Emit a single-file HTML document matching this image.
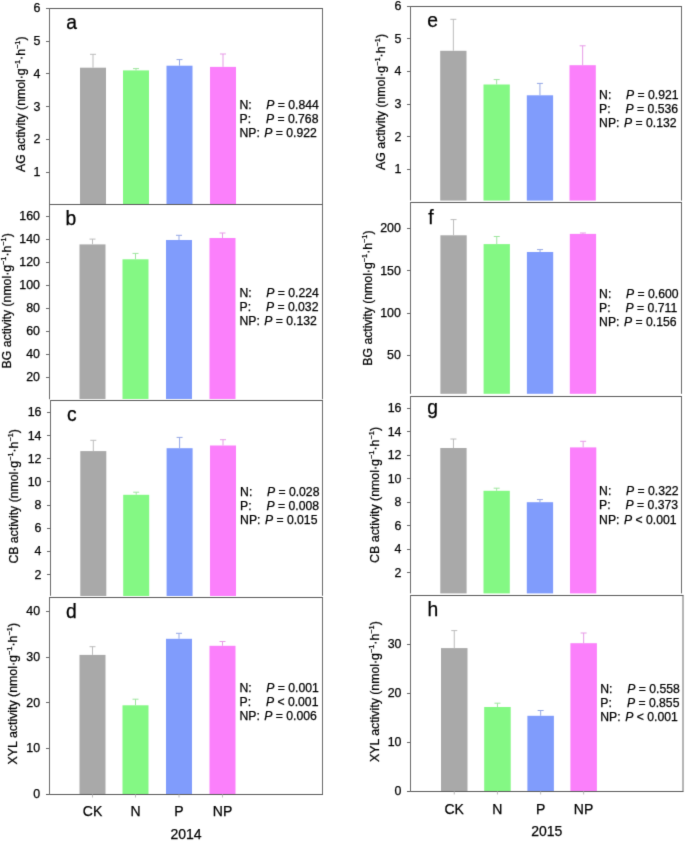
<!DOCTYPE html>
<html><head><meta charset="utf-8"><style>
html,body{margin:0;padding:0;background:#fff;}
svg{display:block;}
text{font-family:"Liberation Sans", sans-serif;fill:#000;stroke:#000;stroke-width:0.25px;}
</style></head><body>
<svg width="685" height="841" viewBox="0 0 685 841">
<defs><filter id="soft" filterUnits="userSpaceOnUse" x="0" y="0" width="685" height="841" color-interpolation-filters="sRGB">
<feConvolveMatrix order="3" kernelMatrix="0.0114 0.084 0.0114 0.084 0.618 0.084 0.0114 0.084 0.0114" divisor="1" edgeMode="duplicate"/></filter></defs>
<g filter="url(#soft)">
<rect width="685" height="841" fill="#fff"/>
<rect x="80" y="67.7" width="26" height="136.3" fill="#a9a9a9"/>
<line x1="93.0" y1="54.3" x2="93.0" y2="67.7" stroke="#bcbcbc" stroke-width="1"/>
<line x1="90.0" y1="54.3" x2="96.0" y2="54.3" stroke="#bcbcbc" stroke-width="1"/>
<rect x="123" y="70.4" width="26" height="133.6" fill="#84f884"/>
<line x1="136.0" y1="68.6" x2="136.0" y2="70.4" stroke="#9fe69f" stroke-width="1"/>
<line x1="133.0" y1="68.6" x2="139.0" y2="68.6" stroke="#9fe69f" stroke-width="1"/>
<rect x="166.5" y="65.7" width="26" height="138.3" fill="#809cfc"/>
<line x1="179.5" y1="59.6" x2="179.5" y2="65.7" stroke="#95a8e6" stroke-width="1"/>
<line x1="176.5" y1="59.6" x2="182.5" y2="59.6" stroke="#95a8e6" stroke-width="1"/>
<rect x="210" y="66.9" width="26" height="137.1" fill="#fb80fb"/>
<line x1="223.0" y1="54.0" x2="223.0" y2="66.9" stroke="#e79be7" stroke-width="1"/>
<line x1="220.0" y1="54.0" x2="226.0" y2="54.0" stroke="#e79be7" stroke-width="1"/>
<line x1="49.5" y1="8.5" x2="323.0" y2="8.5" stroke="#5a5a5a" stroke-width="1"/>
<line x1="49.5" y1="8.0" x2="49.5" y2="204.5" stroke="#6a6a6a" stroke-width="1"/>
<line x1="322.5" y1="8.5" x2="322.5" y2="204.5" stroke="#6a6a6a" stroke-width="1"/>
<line x1="46.0" y1="8.5" x2="49.5" y2="8.5" stroke="#6a6a6a" stroke-width="1"/>
<text x="40.5" y="12.1" text-anchor="end" font-size="12.4">6</text>
<line x1="46.0" y1="41.5" x2="49.5" y2="41.5" stroke="#6a6a6a" stroke-width="1"/>
<text x="40.5" y="44.9" text-anchor="end" font-size="12.4">5</text>
<line x1="46.0" y1="73.5" x2="49.5" y2="73.5" stroke="#6a6a6a" stroke-width="1"/>
<text x="40.5" y="77.7" text-anchor="end" font-size="12.4">4</text>
<line x1="46.0" y1="106.5" x2="49.5" y2="106.5" stroke="#6a6a6a" stroke-width="1"/>
<text x="40.5" y="110.5" text-anchor="end" font-size="12.4">3</text>
<line x1="46.0" y1="139.5" x2="49.5" y2="139.5" stroke="#6a6a6a" stroke-width="1"/>
<text x="40.5" y="143.3" text-anchor="end" font-size="12.4">2</text>
<line x1="46.0" y1="172.5" x2="49.5" y2="172.5" stroke="#6a6a6a" stroke-width="1"/>
<text x="40.5" y="176.1" text-anchor="end" font-size="12.4">1</text>
<text x="66.3" y="28.7" font-size="19.3">a</text>
<text transform="translate(24.8,171.9) rotate(-90)" font-size="12.2" textLength="135.4" lengthAdjust="spacingAndGlyphs">AG activity (nmol·g<tspan font-size="7.32" dy="-5.0">−1</tspan><tspan dy="5.0">·h</tspan><tspan font-size="7.32" dy="-5.0">−1</tspan><tspan dy="5.0">)</tspan></text>
<text x="239.5" y="108.7" font-size="12.2">N:</text>
<text x="266.3" y="108.7" font-size="12.2"><tspan font-style="italic">P</tspan> = 0.844</text>
<text x="239.5" y="122.8" font-size="12.2">P:</text>
<text x="265.9" y="122.8" font-size="12.2"><tspan font-style="italic">P</tspan> = 0.768</text>
<text x="239.5" y="137.2" font-size="12.2">NP:</text>
<text x="264.3" y="137.2" font-size="12.2"><tspan font-style="italic">P</tspan> = 0.922</text>
<rect x="79.5" y="244.4" width="26" height="154.6" fill="#a9a9a9"/>
<line x1="92.5" y1="239.1" x2="92.5" y2="244.4" stroke="#bcbcbc" stroke-width="1"/>
<line x1="89.5" y1="239.1" x2="95.5" y2="239.1" stroke="#bcbcbc" stroke-width="1"/>
<rect x="122.5" y="259.3" width="26" height="139.7" fill="#84f884"/>
<line x1="135.5" y1="253.4" x2="135.5" y2="259.3" stroke="#9fe69f" stroke-width="1"/>
<line x1="132.5" y1="253.4" x2="138.5" y2="253.4" stroke="#9fe69f" stroke-width="1"/>
<rect x="166" y="240.0" width="26" height="159.0" fill="#809cfc"/>
<line x1="179.0" y1="235.3" x2="179.0" y2="240.0" stroke="#95a8e6" stroke-width="1"/>
<line x1="176.0" y1="235.3" x2="182.0" y2="235.3" stroke="#95a8e6" stroke-width="1"/>
<rect x="209.5" y="238.0" width="26" height="161.0" fill="#fb80fb"/>
<line x1="222.5" y1="233.0" x2="222.5" y2="238.0" stroke="#e79be7" stroke-width="1"/>
<line x1="219.5" y1="233.0" x2="225.5" y2="233.0" stroke="#e79be7" stroke-width="1"/>
<line x1="49.5" y1="204.5" x2="323.0" y2="204.5" stroke="#5a5a5a" stroke-width="1"/>
<line x1="49.5" y1="204.0" x2="49.5" y2="399.3" stroke="#6a6a6a" stroke-width="1"/>
<line x1="322.5" y1="204.5" x2="322.5" y2="399.3" stroke="#6a6a6a" stroke-width="1"/>
<line x1="46.0" y1="216.5" x2="49.5" y2="216.5" stroke="#6a6a6a" stroke-width="1"/>
<text x="40.0" y="219.9" text-anchor="end" font-size="12.4">160</text>
<line x1="46.0" y1="239.5" x2="49.5" y2="239.5" stroke="#6a6a6a" stroke-width="1"/>
<text x="40.0" y="243.1" text-anchor="end" font-size="12.4">140</text>
<line x1="46.0" y1="262.5" x2="49.5" y2="262.5" stroke="#6a6a6a" stroke-width="1"/>
<text x="40.0" y="266.2" text-anchor="end" font-size="12.4">120</text>
<line x1="46.0" y1="285.5" x2="49.5" y2="285.5" stroke="#6a6a6a" stroke-width="1"/>
<text x="40.0" y="289.2" text-anchor="end" font-size="12.4">100</text>
<line x1="46.0" y1="308.5" x2="49.5" y2="308.5" stroke="#6a6a6a" stroke-width="1"/>
<text x="40.0" y="312.2" text-anchor="end" font-size="12.4">80</text>
<line x1="46.0" y1="331.5" x2="49.5" y2="331.5" stroke="#6a6a6a" stroke-width="1"/>
<text x="40.0" y="335.2" text-anchor="end" font-size="12.4">60</text>
<line x1="46.0" y1="354.5" x2="49.5" y2="354.5" stroke="#6a6a6a" stroke-width="1"/>
<text x="40.0" y="358.2" text-anchor="end" font-size="12.4">40</text>
<line x1="46.0" y1="377.5" x2="49.5" y2="377.5" stroke="#6a6a6a" stroke-width="1"/>
<text x="40.0" y="381.1" text-anchor="end" font-size="12.4">20</text>
<text x="65.5" y="224.7" font-size="19.3">b</text>
<text transform="translate(10.6,368.4) rotate(-90)" font-size="12.2" textLength="135.2" lengthAdjust="spacingAndGlyphs">BG activity (nmol·g<tspan font-size="7.32" dy="-5.0">−1</tspan><tspan dy="5.0">·h</tspan><tspan font-size="7.32" dy="-5.0">−1</tspan><tspan dy="5.0">)</tspan></text>
<text x="239.5" y="296.5" font-size="12.2">N:</text>
<text x="266.3" y="296.5" font-size="12.2"><tspan font-style="italic">P</tspan> = 0.224</text>
<text x="239.5" y="310.6" font-size="12.2">P:</text>
<text x="265.9" y="310.6" font-size="12.2"><tspan font-style="italic">P</tspan> = 0.032</text>
<text x="239.5" y="325.0" font-size="12.2">NP:</text>
<text x="264.3" y="325.0" font-size="12.2"><tspan font-style="italic">P</tspan> = 0.132</text>
<rect x="80.3" y="451.1" width="26" height="144.9" fill="#a9a9a9"/>
<line x1="93.3" y1="440.3" x2="93.3" y2="451.1" stroke="#bcbcbc" stroke-width="1"/>
<line x1="90.3" y1="440.3" x2="96.3" y2="440.3" stroke="#bcbcbc" stroke-width="1"/>
<rect x="123.2" y="494.8" width="26" height="101.2" fill="#84f884"/>
<line x1="136.2" y1="492.2" x2="136.2" y2="494.8" stroke="#9fe69f" stroke-width="1"/>
<line x1="133.2" y1="492.2" x2="139.2" y2="492.2" stroke="#9fe69f" stroke-width="1"/>
<rect x="166.6" y="448.2" width="26" height="147.8" fill="#809cfc"/>
<line x1="179.6" y1="437.4" x2="179.6" y2="448.2" stroke="#95a8e6" stroke-width="1"/>
<line x1="176.6" y1="437.4" x2="182.6" y2="437.4" stroke="#95a8e6" stroke-width="1"/>
<rect x="210" y="445.5" width="26" height="150.5" fill="#fb80fb"/>
<line x1="223.0" y1="439.7" x2="223.0" y2="445.5" stroke="#e79be7" stroke-width="1"/>
<line x1="220.0" y1="439.7" x2="226.0" y2="439.7" stroke="#e79be7" stroke-width="1"/>
<line x1="50.5" y1="400.5" x2="323.0" y2="400.5" stroke="#5a5a5a" stroke-width="1"/>
<line x1="50.5" y1="400.0" x2="50.5" y2="595.8" stroke="#6a6a6a" stroke-width="1"/>
<line x1="322.5" y1="400.5" x2="322.5" y2="595.8" stroke="#6a6a6a" stroke-width="1"/>
<line x1="47.0" y1="412.5" x2="50.5" y2="412.5" stroke="#6a6a6a" stroke-width="1"/>
<text x="41.5" y="416.3" text-anchor="end" font-size="12.4">16</text>
<line x1="47.0" y1="435.5" x2="50.5" y2="435.5" stroke="#6a6a6a" stroke-width="1"/>
<text x="41.5" y="439.5" text-anchor="end" font-size="12.4">14</text>
<line x1="47.0" y1="458.5" x2="50.5" y2="458.5" stroke="#6a6a6a" stroke-width="1"/>
<text x="41.5" y="462.7" text-anchor="end" font-size="12.4">12</text>
<line x1="47.0" y1="481.5" x2="50.5" y2="481.5" stroke="#6a6a6a" stroke-width="1"/>
<text x="41.5" y="485.8" text-anchor="end" font-size="12.4">10</text>
<line x1="47.0" y1="505.5" x2="50.5" y2="505.5" stroke="#6a6a6a" stroke-width="1"/>
<text x="41.5" y="509.0" text-anchor="end" font-size="12.4">8</text>
<line x1="47.0" y1="528.5" x2="50.5" y2="528.5" stroke="#6a6a6a" stroke-width="1"/>
<text x="41.5" y="532.2" text-anchor="end" font-size="12.4">6</text>
<line x1="47.0" y1="551.5" x2="50.5" y2="551.5" stroke="#6a6a6a" stroke-width="1"/>
<text x="41.5" y="555.4" text-anchor="end" font-size="12.4">4</text>
<line x1="47.0" y1="574.5" x2="50.5" y2="574.5" stroke="#6a6a6a" stroke-width="1"/>
<text x="41.5" y="578.5" text-anchor="end" font-size="12.4">2</text>
<text x="67.1" y="420.6" font-size="19.3">c</text>
<text transform="translate(18.2,563.6) rotate(-90)" font-size="12.2" textLength="134.5" lengthAdjust="spacingAndGlyphs">CB activity (nmol·g<tspan font-size="7.32" dy="-5.0">−1</tspan><tspan dy="5.0">·h</tspan><tspan font-size="7.32" dy="-5.0">−1</tspan><tspan dy="5.0">)</tspan></text>
<text x="240.1" y="495.8" font-size="12.2">N:</text>
<text x="266.9" y="495.8" font-size="12.2"><tspan font-style="italic">P</tspan> = 0.028</text>
<text x="240.1" y="509.9" font-size="12.2">P:</text>
<text x="266.5" y="509.9" font-size="12.2"><tspan font-style="italic">P</tspan> = 0.008</text>
<text x="240.1" y="524.3" font-size="12.2">NP:</text>
<text x="264.9" y="524.3" font-size="12.2"><tspan font-style="italic">P</tspan> = 0.015</text>
<rect x="79.5" y="654.9" width="26" height="139.1" fill="#a9a9a9"/>
<line x1="92.5" y1="646.7" x2="92.5" y2="654.9" stroke="#bcbcbc" stroke-width="1"/>
<line x1="89.5" y1="646.7" x2="95.5" y2="646.7" stroke="#bcbcbc" stroke-width="1"/>
<rect x="122.5" y="705.3" width="26" height="88.7" fill="#84f884"/>
<line x1="135.5" y1="699.2" x2="135.5" y2="705.3" stroke="#9fe69f" stroke-width="1"/>
<line x1="132.5" y1="699.2" x2="138.5" y2="699.2" stroke="#9fe69f" stroke-width="1"/>
<rect x="166" y="638.8" width="26" height="155.2" fill="#809cfc"/>
<line x1="179.0" y1="633.3" x2="179.0" y2="638.8" stroke="#95a8e6" stroke-width="1"/>
<line x1="176.0" y1="633.3" x2="182.0" y2="633.3" stroke="#95a8e6" stroke-width="1"/>
<rect x="209.5" y="645.8" width="26" height="148.2" fill="#fb80fb"/>
<line x1="222.5" y1="641.5" x2="222.5" y2="645.8" stroke="#e79be7" stroke-width="1"/>
<line x1="219.5" y1="641.5" x2="225.5" y2="641.5" stroke="#e79be7" stroke-width="1"/>
<line x1="49.5" y1="597.5" x2="323.0" y2="597.5" stroke="#5a5a5a" stroke-width="1"/>
<line x1="49.5" y1="597.0" x2="49.5" y2="794.5" stroke="#6a6a6a" stroke-width="1"/>
<line x1="322.5" y1="597.5" x2="322.5" y2="794.5" stroke="#6a6a6a" stroke-width="1"/>
<line x1="49.5" y1="794.5" x2="323.0" y2="794.5" stroke="#5a5a5a" stroke-width="1"/>
<line x1="46.0" y1="611.5" x2="49.5" y2="611.5" stroke="#6a6a6a" stroke-width="1"/>
<text x="40.1" y="615.4" text-anchor="end" font-size="12.4">40</text>
<line x1="46.0" y1="657.5" x2="49.5" y2="657.5" stroke="#6a6a6a" stroke-width="1"/>
<text x="40.1" y="661.1" text-anchor="end" font-size="12.4">30</text>
<line x1="46.0" y1="702.5" x2="49.5" y2="702.5" stroke="#6a6a6a" stroke-width="1"/>
<text x="40.1" y="706.7" text-anchor="end" font-size="12.4">20</text>
<line x1="46.0" y1="748.5" x2="49.5" y2="748.5" stroke="#6a6a6a" stroke-width="1"/>
<text x="40.1" y="752.4" text-anchor="end" font-size="12.4">10</text>
<line x1="46.0" y1="794.5" x2="49.5" y2="794.5" stroke="#6a6a6a" stroke-width="1"/>
<text x="40.1" y="798.1" text-anchor="end" font-size="12.4">0</text>
<text x="66.1" y="618.2" font-size="19.3">d</text>
<text transform="translate(17.2,764.4) rotate(-90)" font-size="12.2" textLength="141.4" lengthAdjust="spacingAndGlyphs">XYL activity (nmol·g<tspan font-size="7.32" dy="-5.0">−1</tspan><tspan dy="5.0">·h</tspan><tspan font-size="7.32" dy="-5.0">−1</tspan><tspan dy="5.0">)</tspan></text>
<text x="239.5" y="691.6" font-size="12.2">N:</text>
<text x="266.3" y="691.6" font-size="12.2"><tspan font-style="italic">P</tspan> = 0.001</text>
<text x="239.5" y="705.7" font-size="12.2">P:</text>
<text x="265.9" y="705.7" font-size="12.2"><tspan font-style="italic">P</tspan> < 0.001</text>
<text x="239.5" y="720.1" font-size="12.2">NP:</text>
<text x="264.3" y="720.1" font-size="12.2"><tspan font-style="italic">P</tspan> = 0.006</text>
<line x1="46.0" y1="794.5" x2="49.5" y2="794.5" stroke="#5a5a5a" stroke-width="1"/>
<line x1="92.5" y1="794.5" x2="92.5" y2="797.5" stroke="#bbbbbb" stroke-width="1"/>
<text x="92.5" y="816.2" text-anchor="middle" font-size="14">CK</text>
<line x1="135.5" y1="794.5" x2="135.5" y2="797.5" stroke="#bbbbbb" stroke-width="1"/>
<text x="135.5" y="816.2" text-anchor="middle" font-size="14">N</text>
<line x1="179.0" y1="794.5" x2="179.0" y2="797.5" stroke="#bbbbbb" stroke-width="1"/>
<text x="179.0" y="816.2" text-anchor="middle" font-size="14">P</text>
<line x1="222.5" y1="794.5" x2="222.5" y2="797.5" stroke="#bbbbbb" stroke-width="1"/>
<text x="222.5" y="816.2" text-anchor="middle" font-size="14">NP</text>
<text x="186.0" y="839.0" text-anchor="middle" font-size="14">2014</text>
<rect x="440.2" y="50.8" width="26.3" height="149.8" fill="#a9a9a9"/>
<line x1="453.34999999999997" y1="19.3" x2="453.34999999999997" y2="50.8" stroke="#bcbcbc" stroke-width="1"/>
<line x1="450.34999999999997" y1="19.3" x2="456.34999999999997" y2="19.3" stroke="#bcbcbc" stroke-width="1"/>
<rect x="483.5" y="84.5" width="26.3" height="116.1" fill="#84f884"/>
<line x1="496.65" y1="79.6" x2="496.65" y2="84.5" stroke="#9fe69f" stroke-width="1"/>
<line x1="493.65" y1="79.6" x2="499.65" y2="79.6" stroke="#9fe69f" stroke-width="1"/>
<rect x="526.8" y="95.3" width="26.3" height="105.3" fill="#809cfc"/>
<line x1="539.9499999999999" y1="83.4" x2="539.9499999999999" y2="95.3" stroke="#95a8e6" stroke-width="1"/>
<line x1="536.9499999999999" y1="83.4" x2="542.9499999999999" y2="83.4" stroke="#95a8e6" stroke-width="1"/>
<rect x="569.5" y="65.2" width="26.3" height="135.4" fill="#fb80fb"/>
<line x1="582.65" y1="45.8" x2="582.65" y2="65.2" stroke="#e79be7" stroke-width="1"/>
<line x1="579.65" y1="45.8" x2="585.65" y2="45.8" stroke="#e79be7" stroke-width="1"/>
<line x1="410.5" y1="6.5" x2="682.0" y2="6.5" stroke="#5a5a5a" stroke-width="1"/>
<line x1="410.5" y1="6.0" x2="410.5" y2="200.6" stroke="#6a6a6a" stroke-width="1"/>
<line x1="681.5" y1="6.5" x2="681.5" y2="200.6" stroke="#6a6a6a" stroke-width="1"/>
<line x1="407.0" y1="6.5" x2="410.5" y2="6.5" stroke="#6a6a6a" stroke-width="1"/>
<text x="401.5" y="10.2" text-anchor="end" font-size="12.4">6</text>
<line x1="407.0" y1="38.5" x2="410.5" y2="38.5" stroke="#6a6a6a" stroke-width="1"/>
<text x="401.5" y="42.8" text-anchor="end" font-size="12.4">5</text>
<line x1="407.0" y1="71.5" x2="410.5" y2="71.5" stroke="#6a6a6a" stroke-width="1"/>
<text x="401.5" y="75.4" text-anchor="end" font-size="12.4">4</text>
<line x1="407.0" y1="104.5" x2="410.5" y2="104.5" stroke="#6a6a6a" stroke-width="1"/>
<text x="401.5" y="108.0" text-anchor="end" font-size="12.4">3</text>
<line x1="407.0" y1="136.5" x2="410.5" y2="136.5" stroke="#6a6a6a" stroke-width="1"/>
<text x="401.5" y="140.6" text-anchor="end" font-size="12.4">2</text>
<line x1="407.0" y1="169.5" x2="410.5" y2="169.5" stroke="#6a6a6a" stroke-width="1"/>
<text x="401.5" y="173.1" text-anchor="end" font-size="12.4">1</text>
<text x="427.3" y="26.7" font-size="19.3">e</text>
<text transform="translate(385.1,169.9) rotate(-90)" font-size="12.2" textLength="136.0" lengthAdjust="spacingAndGlyphs">AG activity (nmol·g<tspan font-size="7.32" dy="-5.0">−1</tspan><tspan dy="5.0">·h</tspan><tspan font-size="7.32" dy="-5.0">−1</tspan><tspan dy="5.0">)</tspan></text>
<text x="599.1" y="98.7" font-size="12.2">N:</text>
<text x="626.0" y="98.7" font-size="12.2"><tspan font-style="italic">P</tspan> = 0.921</text>
<text x="599.1" y="112.8" font-size="12.2">P:</text>
<text x="625.6" y="112.8" font-size="12.2"><tspan font-style="italic">P</tspan> = 0.536</text>
<text x="599.1" y="127.2" font-size="12.2">NP:</text>
<text x="624.0" y="127.2" font-size="12.2"><tspan font-style="italic">P</tspan> = 0.132</text>
<rect x="440.4" y="235.3" width="26.3" height="158.5" fill="#a9a9a9"/>
<line x1="453.54999999999995" y1="219.6" x2="453.54999999999995" y2="235.3" stroke="#bcbcbc" stroke-width="1"/>
<line x1="450.54999999999995" y1="219.6" x2="456.54999999999995" y2="219.6" stroke="#bcbcbc" stroke-width="1"/>
<rect x="483.6" y="244.1" width="26.3" height="149.7" fill="#84f884"/>
<line x1="496.75" y1="236.5" x2="496.75" y2="244.1" stroke="#9fe69f" stroke-width="1"/>
<line x1="493.75" y1="236.5" x2="499.75" y2="236.5" stroke="#9fe69f" stroke-width="1"/>
<rect x="526.9" y="252.0" width="26.3" height="141.8" fill="#809cfc"/>
<line x1="540.05" y1="249.6" x2="540.05" y2="252.0" stroke="#95a8e6" stroke-width="1"/>
<line x1="537.05" y1="249.6" x2="543.05" y2="249.6" stroke="#95a8e6" stroke-width="1"/>
<rect x="569.8" y="233.9" width="26.3" height="159.9" fill="#fb80fb"/>
<line x1="582.9499999999999" y1="233.0" x2="582.9499999999999" y2="233.9" stroke="#e79be7" stroke-width="1"/>
<line x1="579.9499999999999" y1="233.0" x2="585.9499999999999" y2="233.0" stroke="#e79be7" stroke-width="1"/>
<line x1="410.5" y1="202.5" x2="682.0" y2="202.5" stroke="#5a5a5a" stroke-width="1"/>
<line x1="410.5" y1="202.0" x2="410.5" y2="393.8" stroke="#6a6a6a" stroke-width="1"/>
<line x1="681.5" y1="202.5" x2="681.5" y2="393.8" stroke="#6a6a6a" stroke-width="1"/>
<line x1="407.0" y1="228.5" x2="410.5" y2="228.5" stroke="#6a6a6a" stroke-width="1"/>
<text x="400.9" y="232.2" text-anchor="end" font-size="12.4">200</text>
<line x1="407.0" y1="270.5" x2="410.5" y2="270.5" stroke="#6a6a6a" stroke-width="1"/>
<text x="400.9" y="274.6" text-anchor="end" font-size="12.4">150</text>
<line x1="407.0" y1="313.5" x2="410.5" y2="313.5" stroke="#6a6a6a" stroke-width="1"/>
<text x="400.9" y="317.0" text-anchor="end" font-size="12.4">100</text>
<line x1="407.0" y1="355.5" x2="410.5" y2="355.5" stroke="#6a6a6a" stroke-width="1"/>
<text x="400.9" y="359.4" text-anchor="end" font-size="12.4">50</text>
<text x="428.3" y="223.8" font-size="19.3">f</text>
<text transform="translate(372.2,365.7) rotate(-90)" font-size="12.2" textLength="135.2" lengthAdjust="spacingAndGlyphs">BG activity (nmol·g<tspan font-size="7.32" dy="-5.0">−1</tspan><tspan dy="5.0">·h</tspan><tspan font-size="7.32" dy="-5.0">−1</tspan><tspan dy="5.0">)</tspan></text>
<text x="599.1" y="297.5" font-size="12.2">N:</text>
<text x="626.0" y="297.5" font-size="12.2"><tspan font-style="italic">P</tspan> = 0.600</text>
<text x="599.1" y="311.6" font-size="12.2">P:</text>
<text x="625.6" y="311.6" font-size="12.2"><tspan font-style="italic">P</tspan> = 0.711</text>
<text x="599.1" y="326.0" font-size="12.2">NP:</text>
<text x="624.0" y="326.0" font-size="12.2"><tspan font-style="italic">P</tspan> = 0.156</text>
<rect x="440.3" y="448.0" width="26.3" height="145.4" fill="#a9a9a9"/>
<line x1="453.45" y1="439.0" x2="453.45" y2="448.0" stroke="#bcbcbc" stroke-width="1"/>
<line x1="450.45" y1="439.0" x2="456.45" y2="439.0" stroke="#bcbcbc" stroke-width="1"/>
<rect x="483.5" y="490.8" width="26.3" height="102.6" fill="#84f884"/>
<line x1="496.65" y1="488.2" x2="496.65" y2="490.8" stroke="#9fe69f" stroke-width="1"/>
<line x1="493.65" y1="488.2" x2="499.65" y2="488.2" stroke="#9fe69f" stroke-width="1"/>
<rect x="526.8" y="502.2" width="26.3" height="91.2" fill="#809cfc"/>
<line x1="539.9499999999999" y1="499.6" x2="539.9499999999999" y2="502.2" stroke="#95a8e6" stroke-width="1"/>
<line x1="536.9499999999999" y1="499.6" x2="542.9499999999999" y2="499.6" stroke="#95a8e6" stroke-width="1"/>
<rect x="570.0" y="447.4" width="26.3" height="146.0" fill="#fb80fb"/>
<line x1="583.15" y1="441.3" x2="583.15" y2="447.4" stroke="#e79be7" stroke-width="1"/>
<line x1="580.15" y1="441.3" x2="586.15" y2="441.3" stroke="#e79be7" stroke-width="1"/>
<line x1="410.5" y1="396.5" x2="682.0" y2="396.5" stroke="#5a5a5a" stroke-width="1"/>
<line x1="410.5" y1="396.0" x2="410.5" y2="593.4" stroke="#6a6a6a" stroke-width="1"/>
<line x1="681.5" y1="396.5" x2="681.5" y2="593.4" stroke="#6a6a6a" stroke-width="1"/>
<line x1="407.0" y1="408.5" x2="410.5" y2="408.5" stroke="#6a6a6a" stroke-width="1"/>
<text x="401.5" y="412.1" text-anchor="end" font-size="12.4">16</text>
<line x1="407.0" y1="431.5" x2="410.5" y2="431.5" stroke="#6a6a6a" stroke-width="1"/>
<text x="401.5" y="435.6" text-anchor="end" font-size="12.4">14</text>
<line x1="407.0" y1="455.5" x2="410.5" y2="455.5" stroke="#6a6a6a" stroke-width="1"/>
<text x="401.5" y="459.1" text-anchor="end" font-size="12.4">12</text>
<line x1="407.0" y1="478.5" x2="410.5" y2="478.5" stroke="#6a6a6a" stroke-width="1"/>
<text x="401.5" y="482.7" text-anchor="end" font-size="12.4">10</text>
<line x1="407.0" y1="502.5" x2="410.5" y2="502.5" stroke="#6a6a6a" stroke-width="1"/>
<text x="401.5" y="506.2" text-anchor="end" font-size="12.4">8</text>
<line x1="407.0" y1="525.5" x2="410.5" y2="525.5" stroke="#6a6a6a" stroke-width="1"/>
<text x="401.5" y="529.8" text-anchor="end" font-size="12.4">6</text>
<line x1="407.0" y1="549.5" x2="410.5" y2="549.5" stroke="#6a6a6a" stroke-width="1"/>
<text x="401.5" y="553.3" text-anchor="end" font-size="12.4">4</text>
<line x1="407.0" y1="572.5" x2="410.5" y2="572.5" stroke="#6a6a6a" stroke-width="1"/>
<text x="401.5" y="576.8" text-anchor="end" font-size="12.4">2</text>
<text x="427.2" y="414.0" font-size="19.3">g</text>
<text transform="translate(378.8,562.9) rotate(-90)" font-size="12.2" textLength="136.0" lengthAdjust="spacingAndGlyphs">CB activity (nmol·g<tspan font-size="7.32" dy="-5.0">−1</tspan><tspan dy="5.0">·h</tspan><tspan font-size="7.32" dy="-5.0">−1</tspan><tspan dy="5.0">)</tspan></text>
<text x="599.1" y="495.1" font-size="12.2">N:</text>
<text x="626.0" y="495.1" font-size="12.2"><tspan font-style="italic">P</tspan> = 0.322</text>
<text x="599.1" y="509.2" font-size="12.2">P:</text>
<text x="625.6" y="509.2" font-size="12.2"><tspan font-style="italic">P</tspan> = 0.373</text>
<text x="599.1" y="523.6" font-size="12.2">NP:</text>
<text x="624.0" y="523.6" font-size="12.2"><tspan font-style="italic">P</tspan> < 0.001</text>
<rect x="441.0" y="648.1" width="26.5" height="142.9" fill="#a9a9a9"/>
<line x1="454.25" y1="630.6" x2="454.25" y2="648.1" stroke="#bcbcbc" stroke-width="1"/>
<line x1="451.25" y1="630.6" x2="457.25" y2="630.6" stroke="#bcbcbc" stroke-width="1"/>
<rect x="484.2" y="707.0" width="26.5" height="84.0" fill="#84f884"/>
<line x1="497.45" y1="703.2" x2="497.45" y2="707.0" stroke="#9fe69f" stroke-width="1"/>
<line x1="494.45" y1="703.2" x2="500.45" y2="703.2" stroke="#9fe69f" stroke-width="1"/>
<rect x="527.4" y="715.8" width="26.5" height="75.2" fill="#809cfc"/>
<line x1="540.65" y1="710.5" x2="540.65" y2="715.8" stroke="#95a8e6" stroke-width="1"/>
<line x1="537.65" y1="710.5" x2="543.65" y2="710.5" stroke="#95a8e6" stroke-width="1"/>
<rect x="570.4" y="643.2" width="26.5" height="147.8" fill="#fb80fb"/>
<line x1="583.65" y1="633.0" x2="583.65" y2="643.2" stroke="#e79be7" stroke-width="1"/>
<line x1="580.65" y1="633.0" x2="586.65" y2="633.0" stroke="#e79be7" stroke-width="1"/>
<line x1="410.5" y1="595.5" x2="683.5" y2="595.5" stroke="#5a5a5a" stroke-width="1"/>
<line x1="410.5" y1="595.0" x2="410.5" y2="791.5" stroke="#6a6a6a" stroke-width="1"/>
<line x1="683.0" y1="595.5" x2="683.0" y2="791.5" stroke="#6a6a6a" stroke-width="1"/>
<line x1="410.5" y1="791.5" x2="683.5" y2="791.5" stroke="#5a5a5a" stroke-width="1"/>
<line x1="407.0" y1="644.5" x2="410.5" y2="644.5" stroke="#6a6a6a" stroke-width="1"/>
<text x="401.5" y="648.0" text-anchor="end" font-size="12.4">30</text>
<line x1="407.0" y1="693.5" x2="410.5" y2="693.5" stroke="#6a6a6a" stroke-width="1"/>
<text x="401.5" y="697.1" text-anchor="end" font-size="12.4">20</text>
<line x1="407.0" y1="742.5" x2="410.5" y2="742.5" stroke="#6a6a6a" stroke-width="1"/>
<text x="401.5" y="746.2" text-anchor="end" font-size="12.4">10</text>
<line x1="407.0" y1="791.5" x2="410.5" y2="791.5" stroke="#6a6a6a" stroke-width="1"/>
<text x="401.5" y="795.3" text-anchor="end" font-size="12.4">0</text>
<text x="427.6" y="615.7" font-size="19.3">h</text>
<text transform="translate(379.2,762.0) rotate(-90)" font-size="12.2" textLength="140.8" lengthAdjust="spacingAndGlyphs">XYL activity (nmol·g<tspan font-size="7.32" dy="-5.0">−1</tspan><tspan dy="5.0">·h</tspan><tspan font-size="7.32" dy="-5.0">−1</tspan><tspan dy="5.0">)</tspan></text>
<text x="600.3" y="692.8" font-size="12.2">N:</text>
<text x="627.3" y="692.8" font-size="12.2"><tspan font-style="italic">P</tspan> = 0.558</text>
<text x="600.3" y="706.9" font-size="12.2">P:</text>
<text x="626.9" y="706.9" font-size="12.2"><tspan font-style="italic">P</tspan> = 0.855</text>
<text x="600.3" y="721.3" font-size="12.2">NP:</text>
<text x="625.3" y="721.3" font-size="12.2"><tspan font-style="italic">P</tspan> < 0.001</text>
<line x1="407.0" y1="791.5" x2="410.5" y2="791.5" stroke="#5a5a5a" stroke-width="1"/>
<line x1="454.25" y1="791.5" x2="454.25" y2="794.5" stroke="#bbbbbb" stroke-width="1"/>
<text x="454.2" y="813.8" text-anchor="middle" font-size="14">CK</text>
<line x1="497.45" y1="791.5" x2="497.45" y2="794.5" stroke="#bbbbbb" stroke-width="1"/>
<text x="497.4" y="813.8" text-anchor="middle" font-size="14">N</text>
<line x1="540.65" y1="791.5" x2="540.65" y2="794.5" stroke="#bbbbbb" stroke-width="1"/>
<text x="540.6" y="813.8" text-anchor="middle" font-size="14">P</text>
<line x1="583.65" y1="791.5" x2="583.65" y2="794.5" stroke="#bbbbbb" stroke-width="1"/>
<text x="583.6" y="813.8" text-anchor="middle" font-size="14">NP</text>
<text x="546.8" y="836.0" text-anchor="middle" font-size="14">2015</text>
</g>
</svg>
</body></html>
